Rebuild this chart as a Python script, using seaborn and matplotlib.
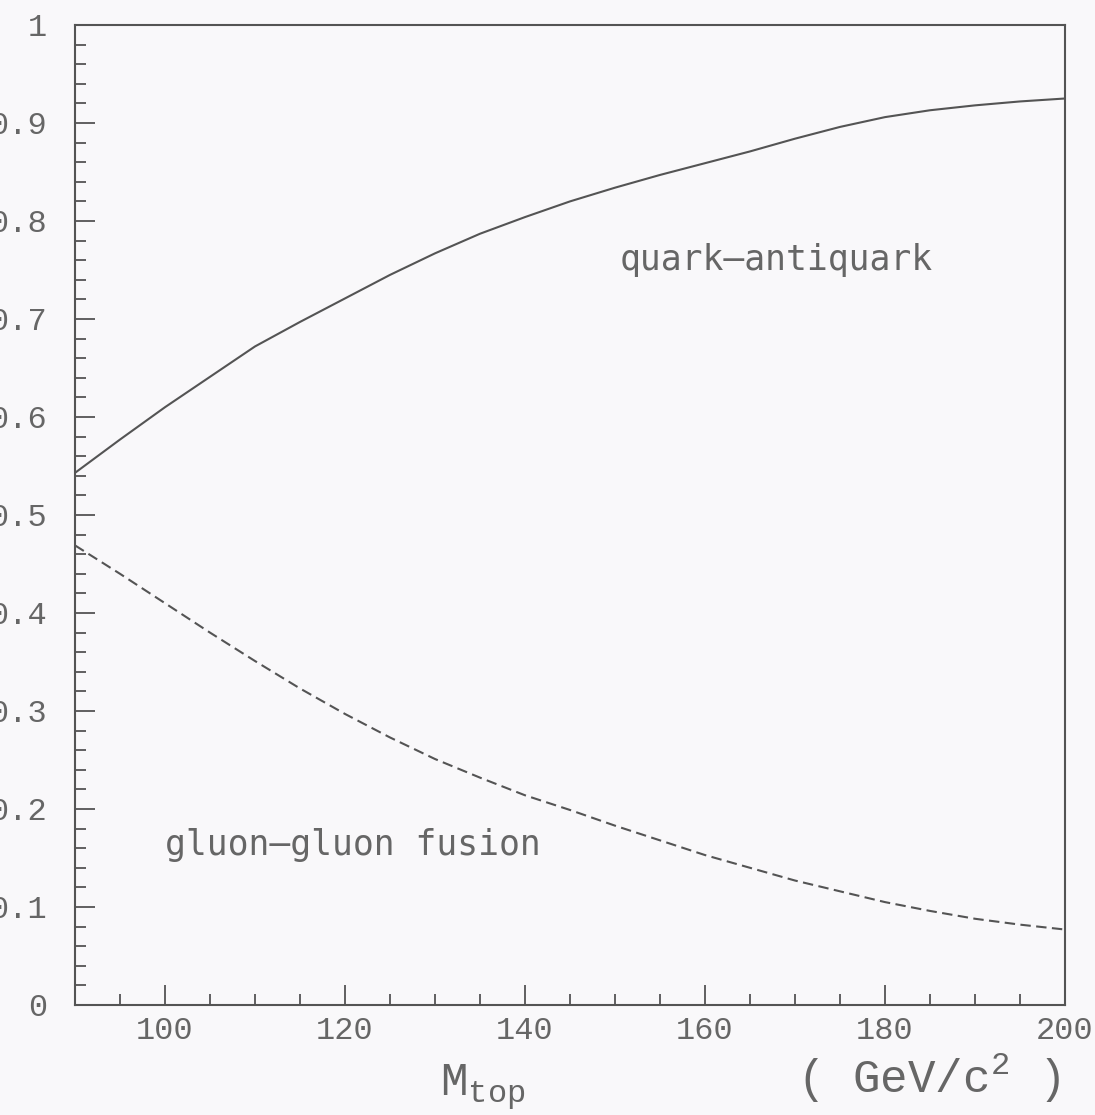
import matplotlib
matplotlib.use("Agg")
import matplotlib.pyplot as plt
import seaborn as sns
import pandas as pd
from matplotlib.ticker import MultipleLocator, FixedLocator, FixedFormatter

# ---- data ----
mtop = [90, 95, 100, 105, 110, 115, 120, 125, 130, 135, 140, 145, 150,
        155, 160, 165, 170, 175, 180, 185, 190, 195, 200]
qqbar = [0.543, 0.577, 0.610, 0.641, 0.672, 0.697, 0.721, 0.745, 0.767,
         0.787, 0.804, 0.820, 0.834, 0.847, 0.859, 0.871, 0.884, 0.896,
         0.906, 0.913, 0.918, 0.922, 0.925]
gg = [0.469, 0.440, 0.410, 0.380, 0.351, 0.323, 0.297, 0.273, 0.251,
      0.232, 0.214, 0.199, 0.183, 0.168, 0.153, 0.140, 0.127, 0.116,
      0.105, 0.096, 0.088, 0.082, 0.077]
xticks = [100, 120, 140, 160, 180, 200]
xtick_labels = ["100", "120", "140", "160", "180", "200"]
yticks = [0, 0.1, 0.2, 0.3, 0.4, 0.5, 0.6, 0.7, 0.8, 0.9, 1.0]
ytick_labels = ["0", "0.1", "0.2", "0.3", "0.4", "0.5", "0.6", "0.7",
                "0.8", "0.9", "1"]
label_qq = "quark\u2013antiquark"
label_gg = "gluon\u2013gluon fusion"

df = pd.DataFrame({"mtop": mtop, "qqbar": qqbar, "gg": gg})

sns.set_theme(style="ticks")
plt.rcParams["mathtext.fontset"] = "custom"
plt.rcParams["mathtext.rm"] = "Liberation Mono"
plt.rcParams["mathtext.it"] = "Liberation Mono"
plt.rcParams["mathtext.default"] = "rm"

BG = "#f9f8fa"
INK = "#545454"
TXT = "#666666"

fig = plt.figure(figsize=(10.95, 11.15), dpi=100, facecolor=BG)
ax = fig.add_axes([75 / 1095, 1 - 1005 / 1115, 990 / 1095, 980 / 1115])
ax.set_facecolor(BG)

sns.lineplot(data=df, x="mtop", y="qqbar", ax=ax, color=INK, lw=1.5)
sns.lineplot(data=df, x="mtop", y="gg", ax=ax, color=INK, lw=1.5,
             linestyle=(0, (5, 2.6)))

ax.set_xlim(90, 200)
ax.set_ylim(0, 1)
ax.set_xlabel("")
ax.set_ylabel("")

for sp in ax.spines.values():
    sp.set_visible(True)
    sp.set_color(INK)
    sp.set_linewidth(1.5)

ax.xaxis.set_major_locator(FixedLocator(xticks))
ax.xaxis.set_major_formatter(FixedFormatter(xtick_labels))
ax.xaxis.set_minor_locator(MultipleLocator(5))
ax.yaxis.set_major_locator(FixedLocator(yticks))
ax.yaxis.set_major_formatter(FixedFormatter(ytick_labels))
ax.yaxis.set_minor_locator(MultipleLocator(0.02))

ax.tick_params(axis="both", which="both", direction="in", color=INK,
               top=False, right=False)
ax.tick_params(axis="both", which="major", length=14.5, width=1.3)
ax.tick_params(axis="both", which="minor", length=8, width=1.3)
ax.tick_params(axis="y", which="major", pad=20)
ax.tick_params(axis="x", which="major", pad=8)
for lab in ax.get_xticklabels() + ax.get_yticklabels():
    lab.set_fontfamily("Liberation Mono")
    lab.set_fontsize(23)
    lab.set_color(TXT)

ax.text(0.55, 0.75, label_qq, transform=ax.transAxes, ha="left",
        va="baseline", family="DejaVu Sans Mono", fontsize=25, color=TXT)
ax.text(0.091, 0.153, label_gg, transform=ax.transAxes, ha="left",
        va="baseline", family="DejaVu Sans Mono", fontsize=25, color=TXT)

fig.text(440 / 1095, 1 - 1095 / 1115, r"M$_{\mathrm{top}}$", ha="left",
         va="baseline", family="Liberation Mono", fontsize=33, color=TXT)
fig.text(797 / 1095, 1 - 1093 / 1115, r"( GeV/c$^{2}$ )", ha="left",
         va="baseline", family="Liberation Mono", fontsize=33, color=TXT)

fig.savefig("out.png", dpi=100, facecolor=BG)
